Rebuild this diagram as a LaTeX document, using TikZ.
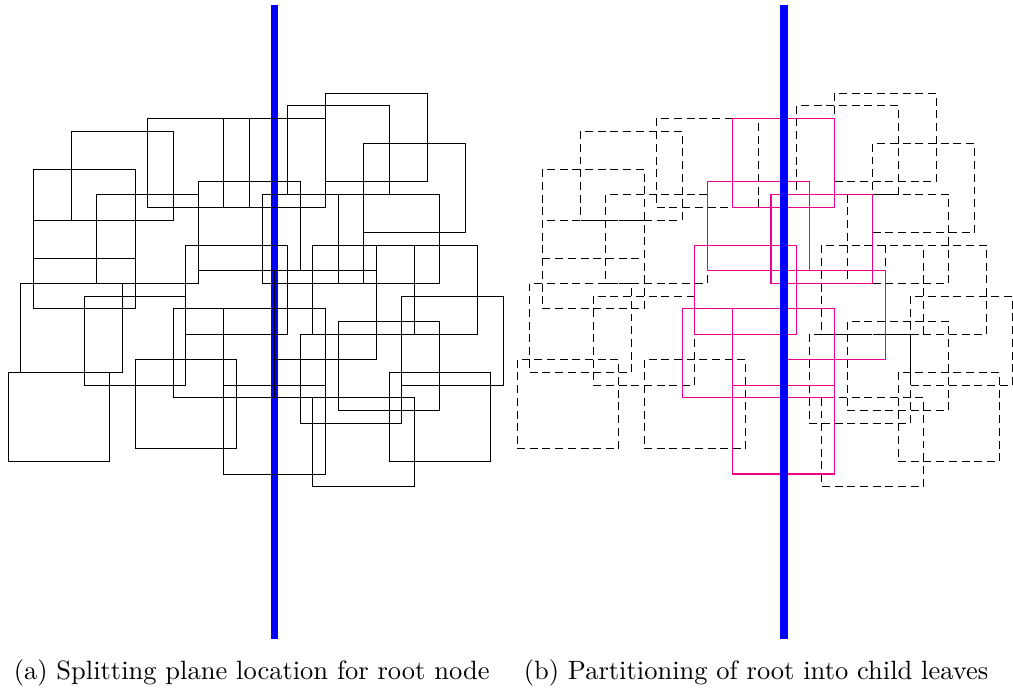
\documentclass[tikz,border=0pt]{standalone}
\begin{document}
\begin{tikzpicture}[x=0.4132pt, y=-0.4132pt]
\tikzset{
  box/.style={draw=black, line width=0.4pt},
  dbox/.style={draw=black, line width=0.4pt, dash pattern=on 3.3pt off 1.95pt},
  mbox/.style={draw=magenta, line width=0.45pt},
  plane/.style={draw=blue, line width=3.2pt},
  captext/.style={anchor=base west, inner sep=0pt, font=\fontsize{10.95}{13.6}\selectfont}
}
\def\g{12.7}
\def\bw{101.6}
\def\bh{88.9}
\useasboundingbox (0,0) rectangle (1013,692);

% (a) all primitives with the candidate splitting plane
\coordinate (pa1) at (274.6,5);
\coordinate (pa2) at (274.6,639);
\draw[plane] (pa1) -- (pa2);
\foreach \i/\j in {0/22,1/15,2/6,2/10,5/3,6/16,7/8,10/21,11/2,13/17,14/12,15/7,
                   17/2,17/17,17/23,20/8,21/14,22/1,23/19,24/12,24/24,25/0,26/8,
                   26/18,28/4,29/12,30/22,31/16}
  \draw[box] ({8+\g*\i},{93+\g*\j}) rectangle ++(\bw,\bh);

% (b) leaves on either side (dashed) and primitives straddling the plane
\foreach \i/\j in {0/21,1/15,2/6,2/10,5/3,6/16,7/8,10/21,11/2,22/1,23/19,24/12,
                   24/24,25/0,26/8,26/18,28/4,29/12,30/22,31/16}
  \draw[dbox] ({517+\g*\i},{93+\g*\j}) rectangle ++(\bw,\bh);
\foreach \i/\j in {13/17,14/12,15/7,17/2,17/17,17/23,20/8,21/14}
  \draw[mbox] ({517+\g*\i},{93+\g*\j}) rectangle ++(\bw,\bh);
\coordinate (pb1) at (783.8,5);
\coordinate (pb2) at (783.8,639);
\draw[plane] (pb1) -- (pb2);

\node[captext] (capa) at (13.3,679) {(a) Splitting plane location for root node};
\node[captext] (capb) at (523.3,679) {(b) Partitioning of root into child leaves};
\end{tikzpicture}
\end{document}
